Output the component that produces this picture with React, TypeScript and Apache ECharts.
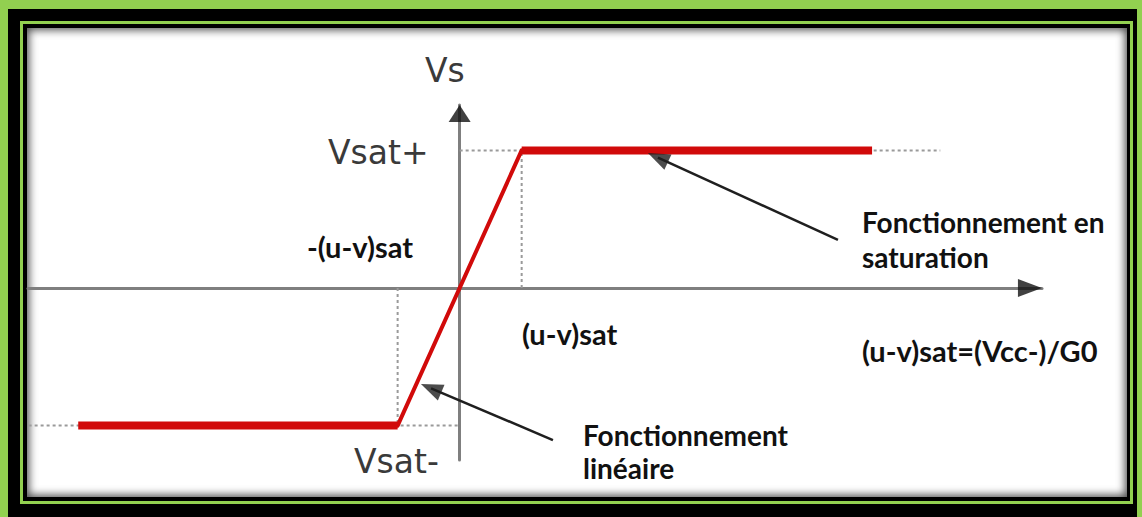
import React, { useEffect, useRef } from "react";
import * as echarts from "echarts";

// ---- data (x in units of (u-v)sat, y in units of Vsat) ----
const xRange = [-6.96, 9.39];
const yRange = [-1.25, 1.33];
const saturationLow = [[-6.15, -1], [-1, -1]];
const linearPart = [[-1, -1], [1, 1]];
const saturationHigh = [[1, 1], [6.65, 1]];
const guideVsatPlus = [[0, 1], [7.75, 1]];
const guideVsatMinus = [[-6.95, -1], [0, -1]];
const guideSatPlus = [[1, 0], [1, 1]];
const guideSatMinus = [[-1, 0], [-1, -1]];
const arrowHeadX = [[9.195, 0]];
const arrowHeadY = [[0, 1.268]];
const pointerSaturation = [[6.1, 0.349], [3.197, 0.948]];
const pointerLinear = [[1.504, -1.105], [-0.461, -0.729]];

const labelVs = "Vs";
const labelVsatPlus = "Vsat+";
const labelVsatMinus = "Vsat-";
const labelSatMinus = "-(u-v)sat";
const labelSatPlus = "(u-v)sat";
const labelFormula = "(u-v)sat=(Vcc-)/G0";
const labelSat1 = "Fonctionnement en";
const labelSat2 = "saturation";
const labelLin1 = "Fonctionnement";
const labelLin2 = "linéaire";

const GREEN = "#92d050";
const RED = "#d10a0a";
const GUIDE = "#9a9a9a";
const AXIS = "#7f7f7f";
const POINTER = "#1f1f1f";
const COMIC = "33px 'DejaVu Sans'";
const BOLD = "bold 28px Lato";
const BOLD_SAT = "bold 29px Lato";

const GRID = { left: 28, top: 105, width: 1014, height: 355 };
const PX_X = GRID.width / (xRange[1] - xRange[0]);
const PX_Y = GRID.height / (yRange[1] - yRange[0]);

function guide(data: number[][]) {
  return {
    type: "line",
    data,
    symbol: "none",
    silent: true,
    z: 1,
    lineStyle: { color: GUIDE, width: 2, type: [3, 3] },
  };
}

function pointerLine(data: number[][]) {
  return {
    type: "line",
    data,
    symbol: "none",
    silent: true,
    z: 5,
    lineStyle: { color: POINTER, width: 2.5 },
  };
}

function pointerHead(data: number[][]) {
  const dx = (data[1][0] - data[0][0]) * PX_X;
  const dy = (data[1][1] - data[0][1]) * PX_Y;
  // triangle points up by default; positive rotation is counter-clockwise
  const rot = (Math.atan2(dy, dx) * 180) / Math.PI - 90;
  return {
    type: "scatter",
    data: [data[1]],
    symbol: "triangle",
    symbolSize: [17, 22],
    symbolRotate: rot,
    silent: true,
    z: 6,
    itemStyle: { color: POINTER },
  };
}

function text(t: string, x: number, y: number, font: string, fill: string, align = "left") {
  return {
    type: "text",
    x,
    y,
    silent: true,
    style: { text: t, font, fill, align, verticalAlign: "middle" },
  };
}

export default function App() {
  const ref = useRef<HTMLDivElement>(null);
  useEffect(() => {
    if (!ref.current) return;
    const chart = echarts.init(ref.current, undefined, { renderer: "svg" });
    chart.setOption({
      animation: false,
      grid: GRID,
      xAxis: {
        type: "value",
        min: xRange[0],
        max: xRange[1],
        axisLine: { onZero: true, lineStyle: { color: AXIS, width: 3 } },
        axisTick: { show: false },
        axisLabel: { show: false },
        splitLine: { show: false },
      },
      yAxis: {
        type: "value",
        min: yRange[0],
        max: yRange[1],
        axisLine: { onZero: true, lineStyle: { color: AXIS, width: 3 } },
        axisTick: { show: false },
        axisLabel: { show: false },
        splitLine: { show: false },
      },
      series: [
        guide(guideVsatPlus),
        guide(guideVsatMinus),
        guide(guideSatPlus),
        guide(guideSatMinus),
        {
          type: "line",
          data: linearPart,
          symbol: "none",
          z: 3,
          lineStyle: { color: RED, width: 4, cap: "round" },
        },
        {
          type: "line",
          data: saturationLow,
          symbol: "none",
          z: 3,
          lineStyle: { color: RED, width: 8, cap: "butt" },
        },
        {
          type: "line",
          data: saturationHigh,
          symbol: "none",
          z: 3,
          lineStyle: { color: RED, width: 8, cap: "butt" },
        },
        pointerLine(pointerLinear),
        pointerHead(pointerLinear),
        pointerLine(pointerSaturation),
        pointerHead(pointerSaturation),
        {
          type: "scatter",
          data: arrowHeadX,
          symbol: "triangle",
          symbolSize: [18, 24],
          symbolRotate: -90,
          silent: true,
          z: 4,
          itemStyle: { color: "#111" },
        },
        {
          type: "scatter",
          data: arrowHeadY,
          symbol: "triangle",
          symbolSize: [22, 17],
          silent: true,
          z: 4,
          itemStyle: { color: "#111" },
        },
      ],
      graphic: [
        text(labelVs, 425, 70, COMIC, "#3a3a3a"),
        text(labelVsatPlus, 328, 152, COMIC, "#3a3a3a"),
        text(labelVsatMinus, 354, 461, COMIC, "#3a3a3a"),
        text(labelSatMinus, 413, 246, BOLD_SAT, "#111", "right"),
        text(labelSatPlus, 522, 333, BOLD_SAT, "#111"),
        text(labelFormula, 862, 350, BOLD_SAT, "#111"),
        text(labelSat1, 862, 222, BOLD, "#111"),
        text(labelSat2, 862, 257, BOLD, "#111"),
        text(labelLin1, 583, 435, BOLD, "#111"),
        text(labelLin2, 583, 468, BOLD, "#111"),
      ],
    });
    return () => chart.dispose();
  }, []);

  return (
    <div
      style={{
        position: "fixed",
        left: 0,
        top: 0,
        width: 1142,
        height: 517,
        background: "#000",
        overflow: "hidden",
      }}
    >
      <div style={{ position: "absolute", left: 0, top: 0, width: 1142, height: 9, background: GREEN }} />
      <div style={{ position: "absolute", left: 0, top: 0, width: 8, height: 517, background: GREEN }} />
      <div style={{ position: "absolute", left: 1137, top: 0, width: 5, height: 517, background: GREEN }} />
      <div
        style={{
          position: "absolute",
          left: 20,
          top: 21,
          width: 1113,
          height: 483,
          boxSizing: "border-box",
          border: `3px solid ${GREEN}`,
          background: "#000",
        }}
      />
      <div
        style={{
          position: "absolute",
          left: 27,
          top: 28,
          width: 1100,
          height: 469,
          background: "#fff",
          boxShadow: "inset 0 0 9px 2px rgba(0,0,0,0.7)",
        }}
      />
      <div ref={ref} style={{ position: "absolute", left: 0, top: 0, width: 1142, height: 517 }} />
    </div>
  );
}
